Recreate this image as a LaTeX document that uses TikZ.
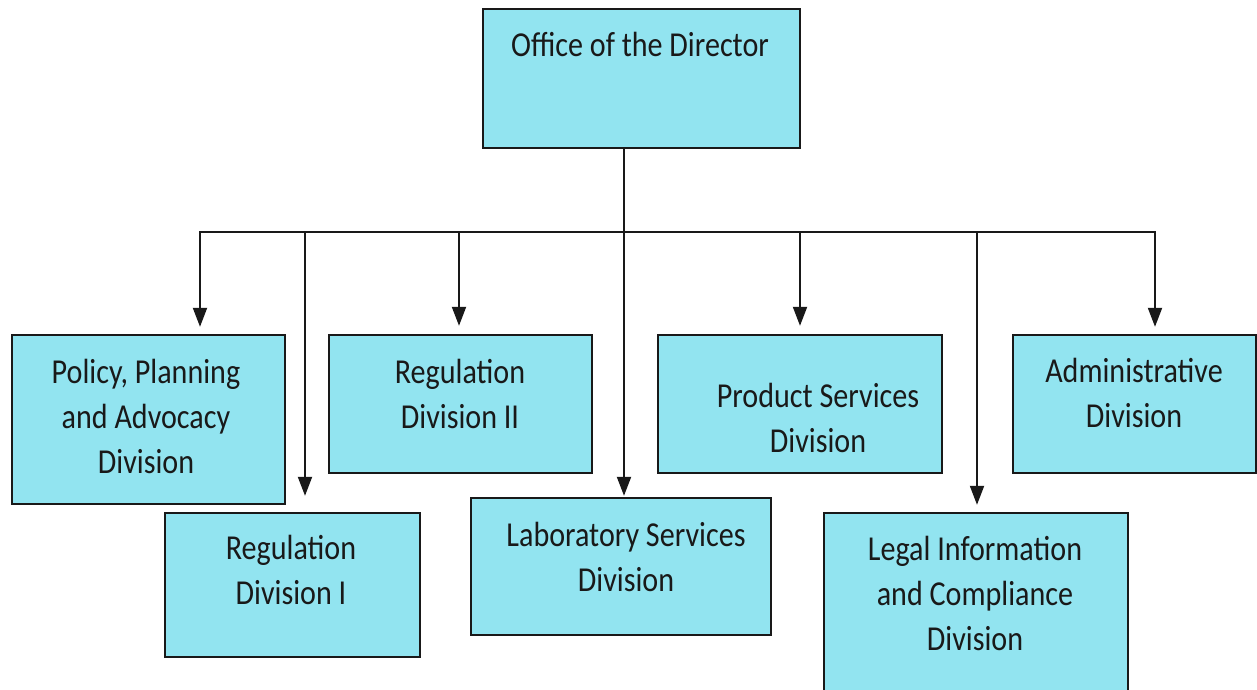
\documentclass[tikz,border=0pt]{standalone}
\usepackage{fontspec}
\setmainfont{Carlito}[FakeStretch=0.86]
\usetikzlibrary{arrows.meta}
\definecolor{boxfill}{RGB}{146,228,240}
\definecolor{ink}{RGB}{25,25,25}
\tikzset{
  unit/.style={draw=ink, line width=2.4pt, fill=boxfill, inner sep=0pt, anchor=center},
  lbl/.style={align=center, text=ink, inner sep=0pt, font=\fontsize{35}{45}\selectfont},
  conn/.style={draw=ink, line width=2pt},
  arr/.style={conn, -{Triangle[width=14pt,length=19pt]}},
}
\begin{document}
\begin{tikzpicture}[x=1pt,y=-1pt]
\useasboundingbox (0,0) rectangle (1257,690);
\clip (0,0) rectangle (1257,690);
\fill[white] (0,0) rectangle (1257,690);
% boxes
\node[unit, minimum width=317pt, minimum height=139pt] (dir) at (641.5,78.5) {};
\node[unit, minimum width=273pt, minimum height=169pt] (pol) at (148.5,419.5) {};
\node[unit, minimum width=255pt, minimum height=144pt] (rg1) at (292.5,585) {};
\node[unit, minimum width=263pt, minimum height=138pt] (rg2) at (460.5,404) {};
\node[unit, minimum width=300pt, minimum height=137pt] (lab) at (621,566.5) {};
\node[unit, minimum width=284pt, minimum height=138pt] (prd) at (800,404) {};
\node[unit, minimum width=243pt, minimum height=138pt] (adm) at (1134.5,404) {};
\node[unit, minimum width=304pt, minimum height=207pt] (leg) at (976,616.5) {};
% texts
\node[lbl] (tdir) at (640,44) {Office of the Director};
\node[lbl] (tpol) at (146,416) {Policy, Planning\\and Advocacy\\Division};
\node[lbl] (trg1) at (291,570) {Regulation\\Division I};
\node[lbl] (trg2) at (460,394) {Regulation\\Division II};
\node[lbl] (tlab) at (626,557) {Laboratory Services\\Division};
\node[lbl] (tprd) at (818,418) {Product Services\\Division};
\node[lbl] (tadm) at (1134,393) {Administrative\\Division};
\node[lbl] (tleg) at (975,593) {Legal Information\\and Compliance\\Division};
% bus coordinates
\coordinate (b1) at (200,232);
\coordinate (b2) at (305,232);
\coordinate (b3) at (459,232);
\coordinate (b4) at (624,232);
\coordinate (b5) at (800,232);
\coordinate (b6) at (977,232);
\coordinate (b7) at (1155,232);
% connectors
\draw[arr, shorten >=1pt] (b4 |- dir.south) -- (b4 |- lab.north);
\draw[arr, shorten >=7pt] (b4) -| (b1 |- pol.north);
\draw[arr, shorten >=7pt] (b4) -| (b7 |- adm.north);
\draw[arr, shorten >=16pt] (b2) -- (b2 |- rg1.north);
\draw[arr, shorten >=8pt] (b3) -- (b3 |- rg2.north);
\draw[arr, shorten >=8pt] (b5) -- (b5 |- prd.north);
\draw[arr, shorten >=7pt] (b6) -- (b6 |- leg.north);
\end{tikzpicture}
\end{document}
